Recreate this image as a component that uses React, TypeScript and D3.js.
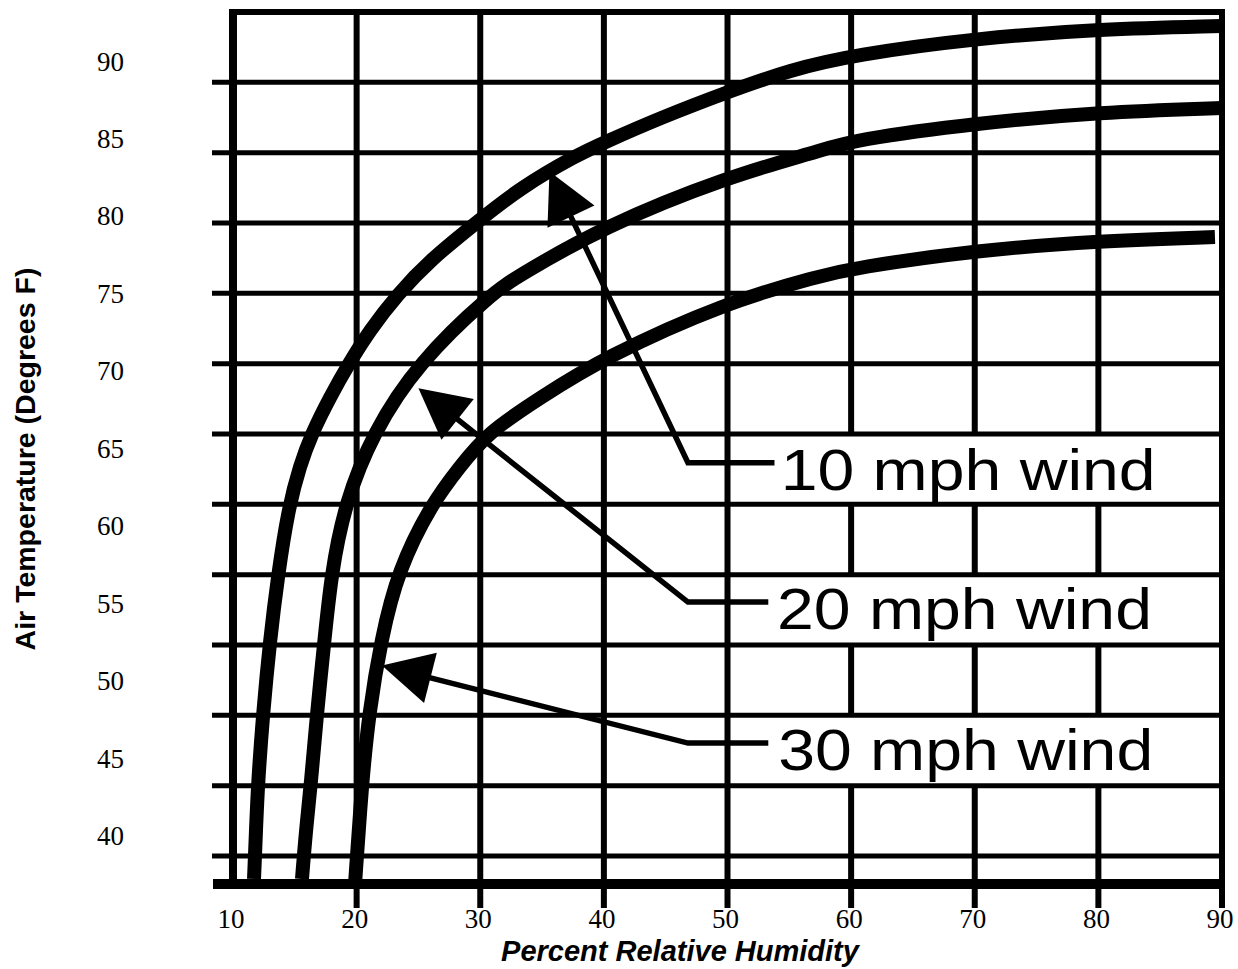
import React from 'react';
import * as d3 from 'd3';

// ---- data ----
const humidityTicks = [10, 20, 30, 40, 50, 60, 70, 80, 90];
const temperatureTicks = [40, 45, 50, 55, 60, 65, 70, 75, 80, 85, 90];

// [relative humidity %, air temperature °F]
const wind10: [number, number][] = [
  [11.7, 37.22], [11.86, 40.39], [12.02, 43.42], [12.43, 47.94], [12.99, 52.65],
  [13.64, 56.85], [14.45, 61.05], [15.42, 63.95], [16.39, 66.02], [17.85, 68.34],
  [19.3, 70.41], [21.08, 72.67], [23.27, 74.93], [25.94, 77.19], [29.74, 79.64],
  [33.22, 81.84], [37.83, 83.97], [39.93, 84.74], [44.54, 86.36], [50.2, 88.1],
  [55.06, 89.46], [60.15, 90.43], [70.26, 91.52], [80.13, 92.1], [90, 92.3],
];
const wind20: [number, number][] = [
  [15.58, 37.22], [15.9, 40.39], [16.31, 43.42], [16.79, 47.94], [17.36, 52.33],
  [17.93, 56.85], [19.06, 61.5], [21.32, 66.02], [24.96, 70.54], [30.95, 75.06],
  [33.22, 76.22], [39.93, 79.32], [49.96, 82.55], [57.48, 84.23], [60.15, 84.94],
  [70.26, 86.03], [80.13, 86.74], [90, 87.0],
];
const wind30: [number, number][] = [
  [19.87, 36.9], [20.43, 43.42], [21.0, 47.94], [21.97, 52.65], [23.35, 57.17],
  [26.1, 61.5], [28.28, 63.76], [30.55, 66.02], [34.83, 68.28], [39.93, 70.86],
  [49.96, 74.48], [57.48, 76.16], [60.15, 76.67], [70.26, 77.83], [80.13, 78.42],
  [89.43, 78.67],
];

const windLabels = ['10 mph wind', '20 mph wind', '30 mph wind'];
const arrowTips: [number, number][] = [[35.6, 82.9], [25.0, 68.9], [22.05, 51.0]];
const arrowElbows: [number, number][] = [[46.8, 64.1], [46.8, 55.1], [46.8, 46.0]];
const leaderEnds = [53.8, 53.3, 53.3];
const labelStarts = [54.3, 54.0, 54.1];
const labelBaselines = [62.34, 53.36, 44.26];
const labelRows = [6, 8, 10];

// ---- layout ----
const W = 1238;
const H = 969;
const left = 233;
const right = 1222;
const top = 12;
const bottom = 884;

export default function App() {
  const x = d3.scaleLinear().domain([10, 90]).range([left, right]);
  const y = d3.scaleLinear().domain([36.9, 93.2]).range([bottom, top]);

  const gridBottom = y(38.71);
  const gridYs = d3.range(1, 13).map((i) => top + (i * (gridBottom - top)) / 12);

  const line = d3
    .line<[number, number]>()
    .x((d) => x(d[0]))
    .y((d) => y(d[1]))
    .curve(d3.curveBasis);

  const curves = [wind10, wind20, wind30];

  const arrows = arrowTips.map((tip, i) => {
    const tx = x(tip[0]);
    const ty = y(tip[1]);
    const ex = x(arrowElbows[i][0]);
    const ey = y(arrowElbows[i][1]);
    const dx = tx - ex;
    const dy = ty - ey;
    const n = Math.hypot(dx, dy);
    const ux = dx / n;
    const uy = dy / n;
    const headLen = 50;
    const half = 26;
    const bx = tx - ux * headLen;
    const by = ty - uy * headLen;
    const px = -uy;
    const py = ux;
    const head = `M${tx},${ty}L${bx + px * half},${by + py * half}L${bx - px * half},${by - py * half}Z`;
    const shaft = `M${x(leaderEnds[i])},${ey}L${ex},${ey}L${bx + ux * 4},${by + uy * 4}`;
    return { head, shaft };
  });

  return (
    <svg
      width={W}
      height={H}
      style={{ position: 'absolute', left: 0, top: 0, background: '#fff' }}
    >
      <rect x={0} y={0} width={W} height={H} fill="#fff" />
      {/* vertical grid lines with tick stubs */}
      {humidityTicks.slice(1).map((v) => (
        <line key={'v' + v} x1={x(v)} x2={x(v)} y1={top - 2} y2={908} stroke="#000" strokeWidth={6} />
      ))}
      {/* white label panels */}
      {labelRows.map((r, i) => (
        <rect
          key={'p' + i}
          x={736}
          y={gridYs[r - 1]}
          width={right - 3 - 736}
          height={gridYs[r] - gridYs[r - 1]}
          fill="#fff"
        />
      ))}
      {/* horizontal grid lines */}
      {gridYs.map((gy, i) => (
        <line key={'h' + i} x1={212} x2={right} y1={gy} y2={gy} stroke="#000" strokeWidth={5} />
      ))}
      {/* frame */}
      <line x1={left} x2={left} y1={top - 3} y2={bottom} stroke="#000" strokeWidth={8} />
      <line x1={left - 4} x2={right + 3} y1={top} y2={top} stroke="#000" strokeWidth={6} />
      <line x1={213} x2={right + 3} y1={bottom} y2={bottom} stroke="#000" strokeWidth={10} />

      {/* curves */}
      {curves.map((c, i) => (
        <path key={'c' + i} d={line(c) || ''} fill="none" stroke="#000" strokeWidth={14} strokeLinecap="butt" />
      ))}

      {/* arrows */}
      {arrows.map((a, i) => (
        <g key={'a' + i}>
          <path d={a.shaft} fill="none" stroke="#000" strokeWidth={5.5} strokeLinejoin="miter" />
          <path d={a.head} fill="#000" />
        </g>
      ))}

      {/* wind labels */}
      {windLabels.map((t, i) => (
        <text
          key={'l' + i}
          x={x(labelStarts[i])}
          y={y(labelBaselines[i])}
          fontFamily="'Liberation Sans', Arial, sans-serif"
          fontSize={58}
          textLength={375}
          lengthAdjust="spacingAndGlyphs"
          fill="#000"
        >
          {t}
        </text>
      ))}

      {/* y tick labels */}
      {temperatureTicks.map((v) => (
        <text
          key={'yt' + v}
          x={124}
          y={y(v) + 9}
          textAnchor="end"
          fontFamily="'Liberation Serif', 'Times New Roman', serif"
          fontSize={27}
          fill="#000"
        >
          {v}
        </text>
      ))}
      {/* x tick labels */}
      {humidityTicks.map((v) => (
        <text
          key={'xt' + v}
          x={x(v) - 2}
          y={928}
          textAnchor="middle"
          fontFamily="'Liberation Serif', 'Times New Roman', serif"
          fontSize={27}
          fill="#000"
        >
          {v}
        </text>
      ))}

      {/* axis titles */}
      <text
        x={680}
        y={961}
        textAnchor="middle"
        fontFamily="'Liberation Sans', Arial, sans-serif"
        fontSize={29}
        fontWeight="bold"
        fontStyle="italic"
        fill="#000"
      >
        Percent Relative Humidity
      </text>
      <text
        transform="translate(35,459) rotate(-90)"
        textAnchor="middle"
        fontFamily="'Liberation Sans', Arial, sans-serif"
        fontSize={28.5}
        fontWeight="bold"
        fill="#000"
      >
        Air Temperature (Degrees F)
      </text>
    </svg>
  );
}
